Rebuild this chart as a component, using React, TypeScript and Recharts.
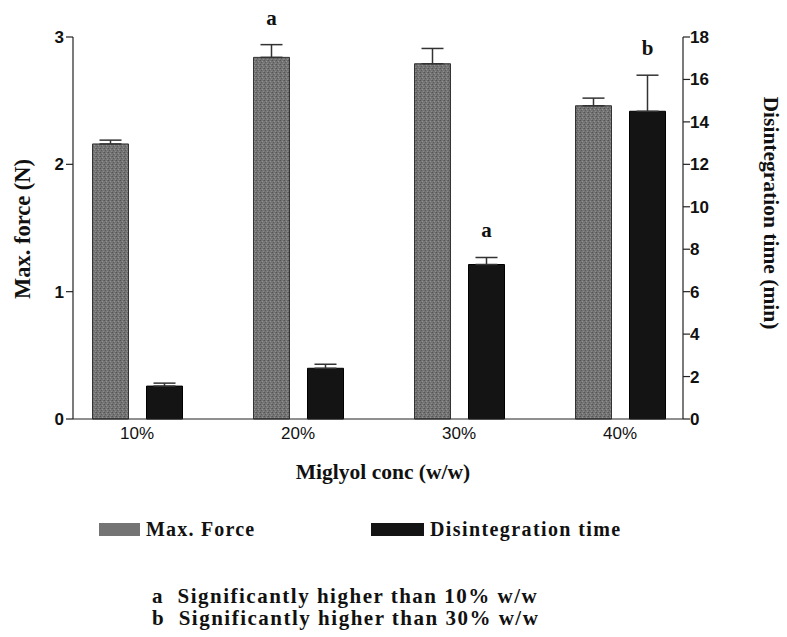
import { BarChart, Bar, XAxis, YAxis, ErrorBar, LabelList } from 'recharts'

const concs = ['10%', '20%', '30%', '40%']
const maxForce = [2.16, 2.84, 2.79, 2.46]
const maxForceErr = [0.03, 0.1, 0.12, 0.06]
const disintTime = [1.55, 2.39, 7.28, 14.5]
const disintTimeErr = [0.14, 0.19, 0.33, 1.7]
const forceMarks = ['', 'a', '', '']
const timeMarks = ['', '', 'a', 'b']
const forceTicks = [0, 1, 2, 3]
const timeTicks = [0, 2, 4, 6, 8, 10, 12, 14, 16, 18]
const footnotes = ['a  Significantly higher than 10% w/w', 'b  Significantly higher than 30% w/w']

const data = concs.map((conc, i) => ({
  conc,
  force: maxForce[i],
  forceErr: [0, maxForceErr[i]],
  forceMark: forceMarks[i],
  time: disintTime[i],
  timeErr: [0, disintTimeErr[i]],
  timeMark: timeMarks[i],
}))

const SERIF = '"Liberation Serif", "DejaVu Serif", serif'
const SANS = '"Liberation Sans", Arial, sans-serif'
const GRAY = '#747474'
const DARK = '#141414'

// little letter over the error bar
const markLabel = (errs: number[], vals: number[]) => (props: any) => {
  const { x, y, width, height, value, index } = props
  if (!value) return null
  const errPx = (errs[index] / vals[index]) * height
  return (
    <text
      x={x + width / 2}
      y={y - errPx - 20}
      textAnchor="middle"
      fontFamily={SERIF}
      fontWeight={700}
      fontSize={21}
      fill="#111"
    >
      {value}
    </text>
  )
}

export default function App() {
  return (
    <div style={{ position: 'absolute', left: 0, top: 0, width: 787, height: 637, background: '#fff' }}>
      <BarChart
        width={787}
        height={637}
        data={data}
        margin={{ top: 37, right: 44, left: 13, bottom: 158 }}
        barSize={36}
        barGap={18}
      >
        <defs>
          <pattern id="grain" width="4" height="4" patternUnits="userSpaceOnUse">
            <rect width="4" height="4" fill={GRAY} />
            <rect x="0" y="0" width="1" height="1" fill="#555" />
            <rect x="2" y="1" width="1" height="1" fill="#959595" />
            <rect x="1" y="2" width="1" height="1" fill="#5c5c5c" />
            <rect x="3" y="3" width="1" height="1" fill="#8c8c8c" />
            <rect x="3" y="0" width="1" height="1" fill="#666" />
          </pattern>
        </defs>
        <XAxis
          dataKey="conc"
          height={60}
          padding={{ left: -16.5, right: -17.5 }}
          tickLine={false}
          axisLine={{ stroke: '#222', strokeWidth: 1.2 }}
          tick={{ fontSize: 17, fontFamily: SANS, fill: '#111' }}
          label={() => (
            <text x={383} y={479} textAnchor="middle" fontFamily={SERIF} fontWeight={700} fontSize={21.5} fill="#111">
              Miglyol conc (w/w)
            </text>
          )}
        />
        <YAxis
          yAxisId="left"
          width={60}
          domain={[0, 3]}
          ticks={forceTicks}
          tickSize={7}
          tickMargin={2}
          axisLine={{ stroke: '#222', strokeWidth: 1.2 }}
          tickLine={{ stroke: '#222', strokeWidth: 1.2 }}
          tick={{ fontSize: 17, fontFamily: SANS, fontWeight: 700, fill: '#111' }}
          label={() => (
            <text
              x={22}
              y={229}
              transform="rotate(-90 22 229)"
              textAnchor="middle"
              dominantBaseline="central"
              fontFamily={SERIF}
              fontWeight={700}
              fontSize={22.5}
              fill="#111"
            >
              Max. force (N)
            </text>
          )}
        />
        <YAxis
          yAxisId="right"
          orientation="right"
          width={60}
          domain={[0, 18]}
          ticks={timeTicks}
          tickSize={7}
          tickMargin={0}
          axisLine={{ stroke: '#222', strokeWidth: 1.2 }}
          tickLine={{ stroke: '#222', strokeWidth: 1.2 }}
          tick={{ fontSize: 17, fontFamily: SANS, fontWeight: 700, fill: '#111' }}
          label={() => (
            <text
              x={771}
              y={213}
              transform="rotate(90 771 213)"
              textAnchor="middle"
              dominantBaseline="central"
              fontFamily={SERIF}
              fontWeight={700}
              fontSize={21.5}
              fill="#111"
            >
              Disintegration time (min)
            </text>
          )}
        />
        <Bar yAxisId="left" dataKey="force" fill="url(#grain)" stroke="#333" strokeWidth={1} isAnimationActive={false}>
          <ErrorBar dataKey="forceErr" width={11} stroke="#333" strokeWidth={1.5} direction="y" />
          <LabelList dataKey="forceMark" content={markLabel(maxForceErr, maxForce)} />
        </Bar>
        <Bar yAxisId="right" dataKey="time" fill={DARK} stroke="#000" strokeWidth={1} isAnimationActive={false}>
          <ErrorBar dataKey="timeErr" width={11} stroke="#333" strokeWidth={1.5} direction="y" />
          <LabelList dataKey="timeMark" content={markLabel(disintTimeErr, disintTime)} />
        </Bar>
      </BarChart>

      {/* legend */}
      <div style={{ position: 'absolute', left: 99, top: 518, display: 'flex', alignItems: 'center', fontFamily: SERIF, fontWeight: 700, fontSize: 20, letterSpacing: 1.2, color: '#111' }}>
        <span style={{ display: 'inline-block', width: 41, height: 13, background: GRAY, marginRight: 6 }} />
        <span>Max. Force</span>
      </div>
      <div style={{ position: 'absolute', left: 371, top: 518, display: 'flex', alignItems: 'center', fontFamily: SERIF, fontWeight: 700, fontSize: 20, letterSpacing: 1.4, color: '#111' }}>
        <span style={{ display: 'inline-block', width: 53, height: 13, background: DARK, marginRight: 6 }} />
        <span>Disintegration time</span>
      </div>

      {/* footnotes */}
      <div style={{ position: 'absolute', left: 152, top: 585, fontFamily: SERIF, fontWeight: 700, fontSize: 21, letterSpacing: 1.5, lineHeight: '22px', color: '#111', whiteSpace: 'pre' }}>
        {footnotes.map((f) => (
          <div key={f}>{f}</div>
        ))}
      </div>
    </div>
  )
}
